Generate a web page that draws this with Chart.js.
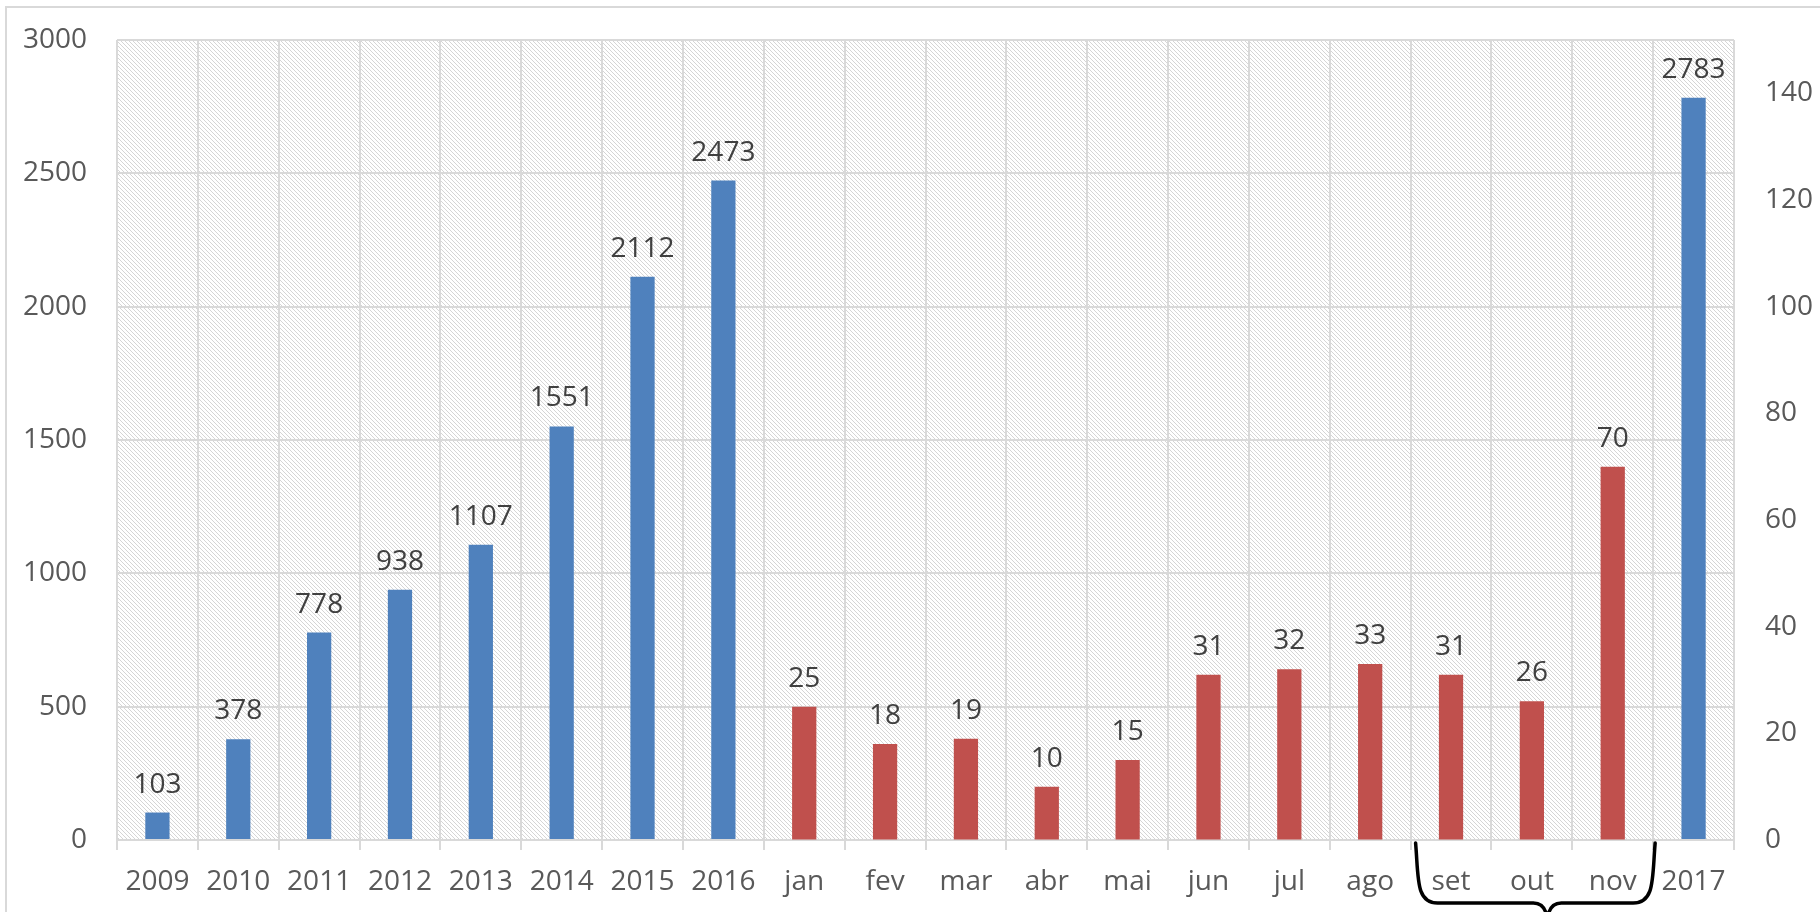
<!DOCTYPE html>
<html><head><meta charset="utf-8">
<script src="https://cdn.jsdelivr.net/npm/chart.js@4/dist/chart.umd.min.js"></script>
<style>html,body{margin:0;padding:0;background:#fff;}#wrap{width:1820px;height:912px;}</style>
</head><body><div id="wrap"><canvas id="c" width="1820" height="912"></canvas></div>
<script>
const categories = ['2009','2010','2011','2012','2013','2014','2015','2016','jan','fev','mar','abr','mai','jun','jul','ago','set','out','nov','2017'];
const annualValues = [103,378,778,938,1107,1551,2112,2473,null,null,null,null,null,null,null,null,null,null,null,2783];
const monthlyValues = [null,null,null,null,null,null,null,null,25,18,19,10,15,31,32,33,31,26,70,null];
const leftTicks = [0,500,1000,1500,2000,2500,3000];
const rightTicks = [0,20,40,60,80,100,120,140];
const bracedFrom = 'set', bracedTo = 'nov';

const FONT = "'Open Sans', 'Liberation Sans', sans-serif";
const GRID = '#d9d9d9';

function makePattern(ctx){
  const t = document.createElement('canvas'); t.width = 4; t.height = 4;
  const c = t.getContext('2d');
  c.fillStyle = '#ffffff'; c.fillRect(0,0,4,4);
  c.fillStyle = '#d5d5d5';
  for (let i=0;i<4;i++) c.fillRect(i,i,1,1);
  return ctx.createPattern(t,'repeat');
}

const bgPlugin = {
  id:'bg',
  beforeDraw(chart){
    const {ctx, chartArea:a} = chart;
    ctx.save();
    ctx.fillStyle = makePattern(ctx);
    ctx.fillRect(a.left, a.top, a.right-a.left, a.bottom-a.top);
    ctx.strokeStyle = GRID; ctx.lineWidth = 2;
    ctx.strokeRect(6, 7, 1900, 1000);
    ctx.restore();
  }
};

const labelPlugin = {
  id:'vals',
  afterDatasetsDraw(chart){
    const ctx = chart.ctx;
    ctx.save();
    ctx.font = '28px ' + FONT;
    ctx.fillStyle = '#404040';
    ctx.textAlign = 'center'; ctx.textBaseline = 'alphabetic';
    chart.data.datasets.forEach((ds, di) => {
      const meta = chart.getDatasetMeta(di);
      meta.data.forEach((el, i) => {
        const v = ds.data[i];
        if (v === null || v === undefined) return;
        ctx.fillText(String(v), el.x, el.y - 20);
      });
    });
    ctx.restore();
  }
};

const bracePlugin = {
  id:'brace',
  afterDraw(chart){
    const ctx = chart.ctx, xs = chart.scales.x;
    const i0 = categories.indexOf(bracedFrom), i1 = categories.indexOf(bracedTo);
    const bL = (xs.getPixelForValue(i0-1) + xs.getPixelForValue(i0))/2;
    const bR = (xs.getPixelForValue(i1) + xs.getPixelForValue(i1+1))/2;
    const L = bL + 5, R = bR + 2, T = xs.top + 3, H = xs.top + 63;
    const tip = L + 0.55*(R-L);
    ctx.save();
    ctx.strokeStyle = '#000'; ctx.lineWidth = 3.5; ctx.lineCap = 'round';
    ctx.beginPath();
    ctx.moveTo(L, T);
    ctx.bezierCurveTo(L+3, T+35, L, H, L+22, H);
    ctx.lineTo(tip-14, H);
    ctx.quadraticCurveTo(tip-2, H, tip, H+16);
    ctx.moveTo(R, T);
    ctx.bezierCurveTo(R-3, T+35, R, H, R-22, H);
    ctx.lineTo(tip+14, H);
    ctx.quadraticCurveTo(tip+2, H, tip, H+16);
    ctx.stroke();
    ctx.restore();
  }
};

new Chart(document.getElementById('c'), {
  type:'bar',
  data:{
    labels: categories,
    datasets:[
      {label:'anual', data: annualValues, yAxisID:'y', backgroundColor:'#4f81bd', barPercentage:0.3, categoryPercentage:1, grouped:false},
      {label:'mensal', data: monthlyValues, yAxisID:'y2', backgroundColor:'#c0504d', barPercentage:0.3, categoryPercentage:1, grouped:false}
    ]
  },
  options:{
    responsive:false, animation:false, devicePixelRatio:1,
    layout:{padding:{top:40,left:0,right:0,bottom:0}},
    plugins:{legend:{display:false}, tooltip:{enabled:false}},
    scales:{
      x:{
        offset:true,
        grid:{offset:true, color:GRID, lineWidth:2, tickLength:10, drawTicks:true},
        border:{color:GRID, width:2},
        ticks:{color:'#595959', font:{family:FONT, size:28}, padding:15, maxRotation:0, autoSkip:false},
        afterFit(s){ s.height = 72; }
      },
      y:{
        position:'left', min:0, max:3000,
        afterBuildTicks(s){ s.ticks = leftTicks.map(v=>({value:v})); },
        grid:{color:GRID, lineWidth:2, drawTicks:true, tickLength:30, tickColor:'rgba(0,0,0,0)'},
        border:{display:false},
        ticks:{color:'#595959', font:{family:FONT, size:28}, padding:0, callback:v=>String(v)},
        afterFit(s){ s.width = 117; }
      },
      y2:{
        position:'right', min:0, max:150,
        afterBuildTicks(s){ s.ticks = rightTicks.map(v=>({value:v})); },
        grid:{drawOnChartArea:false, drawTicks:true, tickLength:31, tickColor:'rgba(0,0,0,0)'},
        border:{display:false},
        ticks:{color:'#595959', font:{family:FONT, size:28}, padding:0, callback:v=>String(v)},
        afterFit(s){ s.width = 86; }
      }
    }
  },
  plugins:[bgPlugin, labelPlugin, bracePlugin]
});
</script></body></html>
